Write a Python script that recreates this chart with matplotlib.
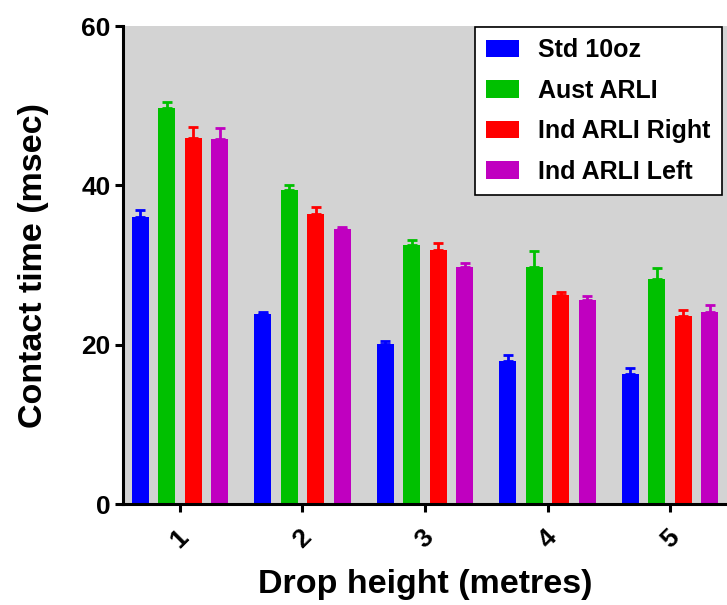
import numpy as np
import matplotlib
matplotlib.use("Agg")
import matplotlib.pyplot as plt

plt.rcParams['font.family'] = ['Liberation Sans', 'DejaVu Sans']
plt.rcParams['font.weight'] = 'bold'

heights = [1, 2, 3, 4, 5]
series = ["Std 10oz", "Aust ARLI", "Ind ARLI Right", "Ind ARLI Left"]
colors = ["#0000ff", "#00c000", "#ff0000", "#c000c0"]

std_10oz = [36.0, 23.8, 20.1, 18.0, 16.3]
aust_arli = [49.7, 39.4, 32.5, 29.7, 28.2]
ind_right = [45.9, 36.4, 31.9, 26.2, 23.6]
ind_left = [45.8, 34.5, 29.7, 25.6, 24.1]

std_10oz_err = [0.9, 0.3, 0.3, 0.7, 0.8]
aust_arli_err = [0.7, 0.7, 0.7, 2.1, 1.4]
ind_right_err = [1.4, 0.9, 0.8, 0.4, 0.7]
ind_left_err = [1.4, 0.3, 0.5, 0.5, 0.9]

means = [std_10oz, aust_arli, ind_right, ind_left]
errs = [std_10oz_err, aust_arli_err, ind_right_err, ind_left_err]

fig = plt.figure(figsize=(7.27, 6.05), dpi=100)
ax = fig.add_axes([123 / 727, 1 - 504 / 605, 1 - 123 / 727, (504 - 26) / 605])
ax.set_facecolor("#d3d3d3")

x = np.array(heights, dtype=float)
step = 0.216
width = 0.139
for i in range(4):
    pos = x + (i - 1.5) * step
    ax.bar(pos, means[i], width, color=colors[i], label=series[i], zorder=2)
    ax.errorbar(pos, means[i], yerr=[np.zeros(5), errs[i]], fmt='none',
                ecolor=colors[i], elinewidth=2, capsize=3.3, capthick=2, zorder=3)

ax.set_xlim(0.535, 5.465)
ax.set_ylim(0, 60)
ax.set_yticks([0, 20, 40, 60])
ax.set_xticks(heights)
ax.set_xticklabels([str(h) for h in heights], rotation=45, fontsize=19, fontweight='bold')
ax.tick_params(axis='y', labelsize=19, width=2.2, length=6, pad=3)
ax.tick_params(axis='x', width=2.2, length=6, pad=9)
for lab in ax.get_yticklabels():
    lab.set_fontweight('bold')

for s in ['top', 'right']:
    ax.spines[s].set_visible(False)
for s in ['left', 'bottom']:
    ax.spines[s].set_linewidth(2.2)

ax.set_xlabel("Drop height (metres)", fontsize=24.5, fontweight='bold', labelpad=12)
ax.set_ylabel("Contact time (msec)", fontsize=24.5, fontweight='bold', labelpad=23)

leg = ax.legend(loc='upper right', bbox_to_anchor=(722 / 727, 1 - 27 / 605),
                bbox_transform=fig.transFigure, borderaxespad=0, fancybox=False,
                framealpha=1, edgecolor='black', prop={'size': 18, 'weight': 'bold'},
                handlelength=1.32, handleheight=0.68, labelspacing=0.66,
                handletextpad=0.76, borderpad=0.45)
leg.get_frame().set_linewidth(1.2)

fig.savefig("out.png", dpi=100)
